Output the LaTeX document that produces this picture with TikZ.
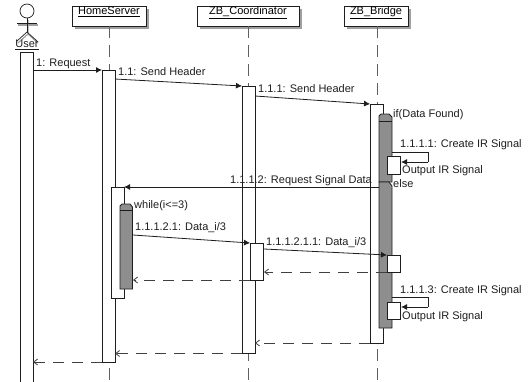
\documentclass[tikz,border=0pt]{standalone}
\usepackage{fontspec}
\setmainfont{Liberation Sans}
\usepackage{xcolor}
\usetikzlibrary{arrows.meta}
\definecolor{inkline}{HTML}{1E1E1E}
\definecolor{barfill}{HTML}{8E8E8E}
\definecolor{shadegray}{HTML}{A0A0A0}
\tikzset{
 objbox/.style={draw=inkline,fill=white,line width=0.8pt,minimum height=20pt,inner xsep=0pt,inner ysep=0pt,text height=8pt,text depth=11pt,font=\fontsize{11}{13}\selectfont},
 bar/.style={draw=inkline,fill=white,line width=0.8pt,minimum width=13pt,inner sep=0pt},
 lifeline/.style={gray!75!black,line width=0.9pt,dash pattern=on 12pt off 7pt},
 msg/.style={inkline,line width=0.8pt,-{Latex[length=6pt,width=6pt]}},
 retmsg/.style={inkline!85,line width=0.8pt,dash pattern=on 11pt off 8pt,-{Straight Barb[length=4pt,width=6pt]}},
 msglabel/.style={anchor=west,inner sep=0pt,yshift=-1.5pt,text=inkline,font=\fontsize{11}{13}\selectfont},
 ifbar/.style={draw=inkline,fill=barfill,line width=0.8pt}
}
\begin{document}
\begin{tikzpicture}[x=1pt,y=-1pt]
 \useasboundingbox (0,0) rectangle (529,381);
 \foreach \x/\y/\w in {75/9/74,200/9/102,347/9/64}
  \fill[shadegray] (\x,\y) rectangle +(\w,20);
 \node[objbox,minimum width=74pt] (homeserver) at (109,16) {\underline{HomeServer}};
 \node[objbox,minimum width=102pt] (coordinator) at (248,16) {\underline{ZB\_Coordinator}};
 \node[objbox,minimum width=64pt] (bridge) at (376,16) {\underline{ZB\_Bridge}};
 \coordinate (homeend) at (109,381);
 \coordinate (coordend) at (248,381);
 \coordinate (bridgeend) at (377,381);
 \draw[lifeline] (homeserver) -- (homeend);
 \draw[lifeline] (coordinator) -- (coordend);
 \draw[lifeline] (bridge.south -| bridgeend) -- (bridgeend);
 \begin{scope}[shadegray,line width=1.2pt,shift={(1,2)}]
  \draw (17,23) -- (37,23);
  \draw (27,18) -- (27,32) -- (17,41);
  \draw (27,32) -- (37,41);
 \end{scope}
 \node[draw=inkline,fill=white,circle,minimum size=14pt,inner sep=0pt,line width=0.7pt] (userhead) at (27,11) {};
 \coordinate (userhip) at (27,32);
 \coordinate (armleft) at (17,23);
 \coordinate (armright) at (37,23);
 \coordinate (legleft) at (17,41);
 \coordinate (legright) at (37,41);
 \draw[inkline,line width=0.7pt] (armleft) -- (armright);
 \draw[inkline,line width=0.7pt] (userhead) -- (userhip);
 \draw[inkline,line width=0.7pt] (legleft) -- (userhip) -- (legright);
 \node[inner sep=0pt,text=inkline,font=\fontsize{11}{13}\selectfont] (user) at (27,45) {\underline{User}};
 \foreach \n/\x/\y/\h in {userbar/26.5/217/330,homebar/108.5/216/292,coordbar/248.5/219.5/267,bridgebar/377/223.5/239,homeinner/117.5/242.5/111}
  \node[bar,minimum height=\h pt] (\n) at (\x,\y) {};
 \draw[ifbar] (379,116) -- (381,114) -- (389,114) -- (392,117) -- (392,182) -- (379,182) -- cycle;
 \draw[inkline] (379,121) -- (392,121);
 \draw[ifbar] (379,182) -- (389,182) -- (392,186) -- (392,328) -- (379,328) -- cycle;
 \draw[ifbar] (120,206) -- (122,204) -- (130,204) -- (132.5,207) -- (132.5,289) -- (120,289) -- cycle;
 \draw[inkline] (120,210) -- (132.5,210);
 \foreach \n/\x/\y/\h in {selfbarone/394/165/18,coordinner/257/261.5/37,bridgeinner/394/263.5/17,selfbartwo/394/310.5/17}
  \node[bar,minimum height=\h pt] (\n) at (\x,\y) {};
 \foreach \n/\x/\y in {reqa/33/70,reqb/102/70,heada/115/79,headb/242/86,hdra/255/96,hdrb/370/104,
   selfa/392/152,selfb/428/152,selfc/428/162,selfd/401/162,sigdataa/379/187,sigdatab/124/187,
   dataa/133/235,datab/250/243,datac/264/249,datad/387/255,
   backa/387/272,backb/264/272,backc/250/280,backd/133/280,backe/370/343,backf/255/343,backg/242/353.5,backh/115/353.5,backi/102/362,backj/33/362,
   selfe/392/297,selff/428/297,selfg/428/307,selfh/401/307}
  \coordinate (\n) at (\x,\y);
 \foreach \a/\b in {reqa/reqb,heada/headb,hdra/hdrb,selfc/selfd,sigdataa/sigdatab,dataa/datab,datac/datad,selfg/selfh}
  \draw[msg] (\a) -- (\b);
 \foreach \a/\b in {backa/backb,backc/backd,backe/backf,backg/backh,backi/backj}
  \draw[retmsg] (\a) -- (\b);
 \draw[inkline,line width=0.8pt] (selfa) -- (selfb) -- (selfc);
 \draw[inkline,line width=0.8pt] (selfe) -- (selff) -- (selfg);
 \foreach \n/\x/\y/\t in {lreq/36/62/1: Request,lhead/118/70/1.1: Send Header,lhdr/258/87/1.1.1: Send Header,
   lif/393/113/if(Data Found),lcreate/400/143/1.1.1.1: Create IR Signal,loutone/402/169/Output IR Signal,
   lelse/393/182/else,lsig/230/179/1.1.1.2: Request Signal Data,lwhile/134/204/while(i<=3),
   ldata/135/226/{1.1.1.2.1: Data\_i/3},ldatb/266/241/{1.1.1.2.1.1: Data\_i/3},
   lcreb/400/289/1.1.1.3: Create IR Signal,louttwo/402/315/Output IR Signal}
  \node[msglabel] (\n) at (\x,\y) {\t};
\end{tikzpicture}
\end{document}
